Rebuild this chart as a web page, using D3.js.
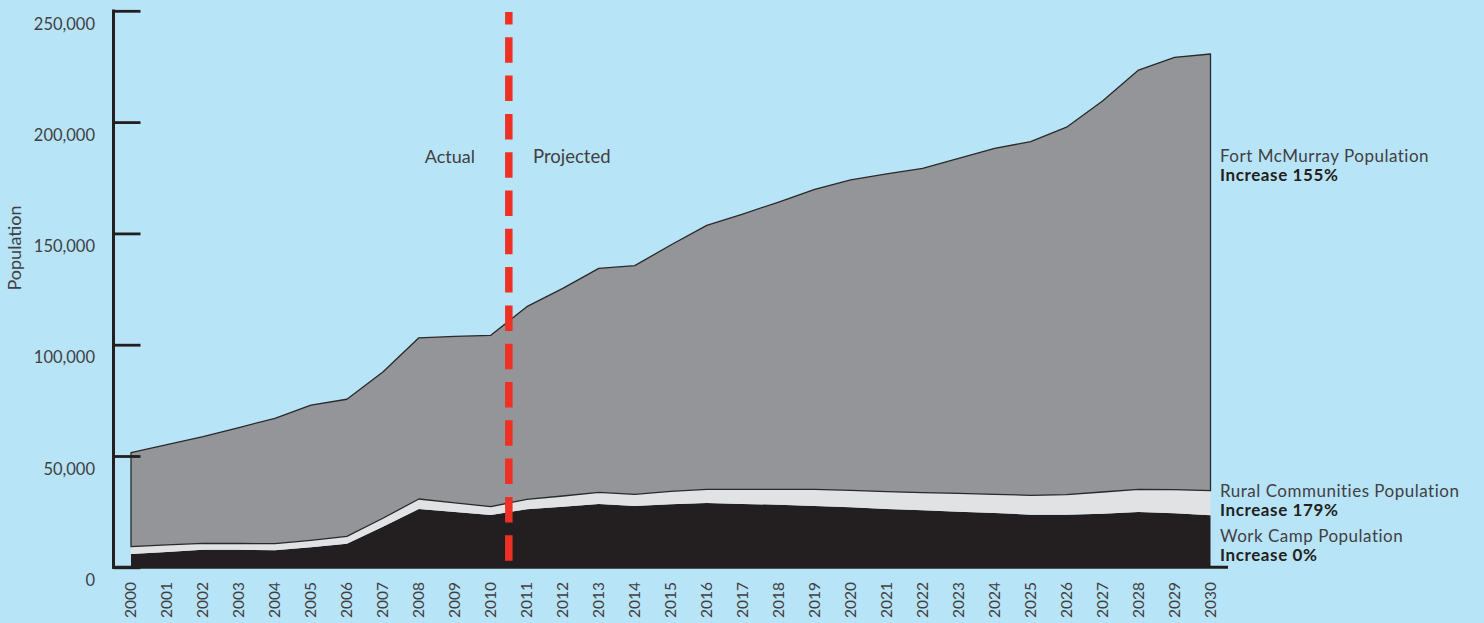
<!DOCTYPE html>
<html>
<head>
<meta charset="utf-8">
<script src="https://cdn.jsdelivr.net/npm/d3@7"></script>
<style>
  html, body { margin: 0; padding: 0; background: #b8e4f8; }
  svg { display: block; }
  text { font-family: Lato, "Open Sans", sans-serif; }
</style>
</head>
<body>
<svg id="chart" width="1484" height="623"></svg>
<script>
// ---- data ----
const years = d3.range(2000, 2031);
const workCamp = [5970, 6900, 7900, 7850, 7700, 8980, 10600, 18240, 26190, 24840, 23490,
  26050, 27220, 28430, 27530, 28290, 28880, 28430, 28130, 27530, 26950,
  26190, 25600, 24980, 24390, 23630, 23630, 24080, 24840, 24260, 23360];
const ruralCommunities = [3280, 3200, 2880, 2850, 2900, 3150, 3320, 3800, 4490, 4110, 3730,
  4490, 4810, 5260, 5260, 5850, 6160, 6610, 6910, 7510, 7640,
  7770, 7910, 8260, 8400, 8710, 8980, 9740, 10200, 10600, 11050];
const fortMcMurray = [42250, 45000, 47920, 52100, 56300, 60770, 61580, 65700, 72420, 74750, 76980,
  86560, 93270, 100610, 102710, 110660, 118560, 123660, 129060, 134760, 139410,
  142740, 145690, 150460, 155410, 158860, 165090, 175680, 188360, 194240, 196190];
const yTicks = [0, 50000, 100000, 150000, 200000, 250000];
const seriesKeys = ["work", "rural", "fort"];
const seriesColors = {work: "#231f20", rural: "#e1e2e4", fort: "#939598"};
const dividerYear = 2010.5;
const periodLabels = ["Actual", "Projected"];
const seriesLabels = [
  {name: "Fort McMurray Population", change: "Increase 155%", y: 162},
  {name: "Rural Communities Population", change: "Increase 179%", y: 497},
  {name: "Work Camp Population", change: "Increase 0%", y: 542}
];

// ---- setup ----
const svg = d3.select("#chart");
const x = d3.scaleLinear().domain([2000, 2030]).range([131, 1210.5]);
const y = d3.scaleLinear().domain([0, 250000]).range([567.3, 10.8]);

const table = years.map((yr, i) => ({year: yr, work: workCamp[i], rural: ruralCommunities[i], fort: fortMcMurray[i]}));
const stacked = d3.stack().keys(seriesKeys)(table);

const area = d3.area()
  .x(d => x(d.data.year))
  .y0(d => y(d[0]))
  .y1(d => y(d[1]));

svg.append("g").selectAll("path")
  .data(stacked)
  .join("path")
  .attr("d", area)
  .attr("fill", d => seriesColors[d.key])
  .attr("stroke", d => d.key === "fort" ? "#2a2829" : "none")
  .attr("stroke-width", d => d.key === "fort" ? 1.3 : 0)
  .attr("stroke-linejoin", "round");

// ---- axes ----
const axisColor = "#231f20";
const yAxis = svg.append("g").attr("transform", "translate(113.5,0)")
  .call(d3.axisRight(y).tickValues(yTicks).tickSize(27).tickFormat(""));
yAxis.select(".domain").remove();
yAxis.selectAll(".tick line").attr("stroke", axisColor).attr("stroke-width", 2.8);
svg.append("line").attr("x1", 113.5).attr("x2", 113.5).attr("y1", y(250000) - 1.4).attr("y2", y(0) + 1.4)
  .attr("stroke", axisColor).attr("stroke-width", 3);
svg.append("line").attr("x1", 112).attr("x2", 1228).attr("y1", y(0)).attr("y2", y(0))
  .attr("stroke", axisColor).attr("stroke-width", 3);

svg.append("g").selectAll("text")
  .data(yTicks)
  .join("text")
  .attr("x", 95)
  .attr("y", d => y(d) + 13)
  .attr("dy", "0.35em")
  .attr("text-anchor", "end")
  .attr("font-size", 16.5)
  .attr("fill", "#414042")
  .text(d => d3.format(",")(d));

svg.append("g").selectAll("text")
  .data(years)
  .join("text")
  .attr("transform", d => `translate(${x(d)},582) rotate(-90)`)
  .attr("dy", "0.35em")
  .attr("text-anchor", "end")
  .attr("font-size", 15.5)
  .attr("fill", "#414042")
  .text(d => d);

svg.append("text")
  .attr("transform", "translate(15,248) rotate(-90)")
  .attr("dy", "0.35em")
  .attr("text-anchor", "middle")
  .attr("font-size", 18)
  .attr("fill", "#414042")
  .text("Population");

// ---- divider ----
svg.append("line")
  .attr("x1", x(dividerYear)).attr("x2", x(dividerYear))
  .attr("y1", 12).attr("y2", 561)
  .attr("stroke", "#ee3124").attr("stroke-width", 7.5)
  .attr("stroke-dasharray", "25.5,12.8").attr("stroke-dashoffset", 13);

svg.append("text").attr("x", 475).attr("y", 163).attr("text-anchor", "end")
  .attr("font-size", 18).attr("fill", "#414042").text(periodLabels[0]);
svg.append("text").attr("x", 533).attr("y", 163).attr("text-anchor", "start")
  .attr("font-size", 18.5).attr("fill", "#414042").text(periodLabels[1]);

// ---- series labels ----
const lbl = svg.append("g").selectAll("g").data(seriesLabels).join("g");
lbl.append("text").attr("x", 1220).attr("y", d => d.y)
  .attr("font-size", 17).attr("letter-spacing", 0.5).attr("fill", "#414042").text(d => d.name);
lbl.append("text").attr("x", 1220).attr("y", d => d.y + 19)
  .attr("font-size", 17).attr("letter-spacing", 0.6).attr("font-weight", "bold").attr("fill", "#231f20").text(d => d.change);
</script>
</body>
</html>
